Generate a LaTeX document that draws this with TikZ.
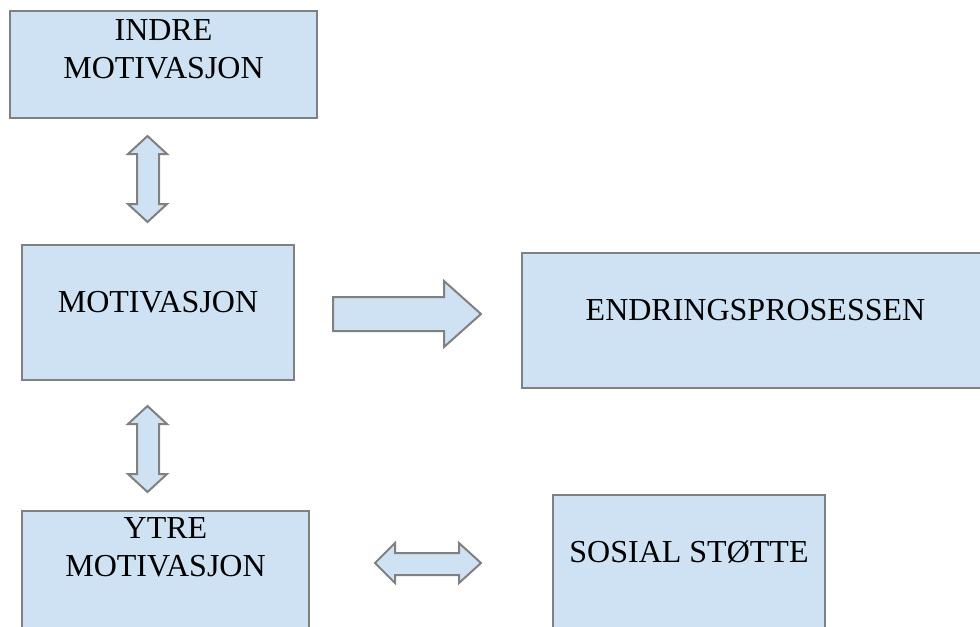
\documentclass[tikz,border=0pt]{standalone}
\usepackage{fontspec}
\setmainfont{Liberation Serif}
\definecolor{boxblue}{RGB}{207,226,243}
\definecolor{edgegray}{RGB}{128,128,128}

\begin{document}
\begin{tikzpicture}[x=0.75pt, y=-0.75pt,
    every node/.style={font=\fontsize{24}{28.5}\selectfont},
    stage/.style={draw=edgegray, fill=boxblue, line width=1.5pt, rectangle, anchor=north west,
        inner xsep=0pt, inner ysep=0pt, align=center},
    fatarrow/.style={draw=edgegray, fill=boxblue, line width=1.5pt, line join=miter}]
\useasboundingbox (0,0) rectangle (980,626);

% Boxes
\node[stage, minimum width=230.25pt, text height=50.25pt, text depth=30pt] (indre) at (9,10) {INDRE\\MOTIVASJON};
\node[stage, minimum width=204pt, text height=50.25pt, text depth=51pt] (motiv) at (21,244) {MOTIVASJON};
\node[stage, minimum width=350.25pt, text height=50.25pt, text depth=51pt] (endring) at (521,252) {ENDRINGSPROSESSEN};
\node[stage, minimum width=215.25pt, text height=48.75pt, text depth=97.5pt] (ytre) at (21,510) {YTRE\\MOTIVASJON};
\node[stage, minimum width=204pt, text height=50.25pt, text depth=53pt] (sosial) at (552,494) {SOSIAL STØTTE};

% Up-down arrows between the motivation boxes
\foreach \t in {136,406} {
    \draw[fatarrow] (147.5,\t) -- (167,\t+18) -- (159,\t+18) -- (159,\t+68) -- (167,\t+68)
        -- (147.5,\t+86) -- (128,\t+68) -- (137,\t+68) -- (137,\t+18) -- (128,\t+18) -- cycle;
}

% Arrow into the change process
\draw[fatarrow] (333,297) -- (444,297) -- (444,281) -- (481,314) -- (444,347) -- (444,331) -- (333,331) -- cycle;

% Left-right arrow to social support
\draw[fatarrow] (375,563) -- (395,543) -- (395,553) -- (459,553) -- (459,543) -- (481,563)
    -- (459,583) -- (459,575) -- (395,575) -- (395,583) -- cycle;
\end{tikzpicture}
\end{document}
